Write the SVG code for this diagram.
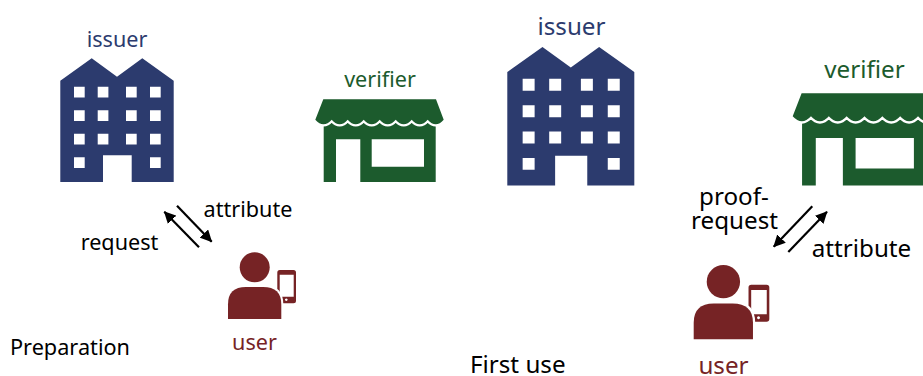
<svg xmlns="http://www.w3.org/2000/svg" width="923" height="376" viewBox="0 0 923 376">
<style>
text{font-family:"Noto Sans","Open Sans","Liberation Sans",sans-serif}
.s{font-size:21.6px}.l{font-size:24.2px}
.b{fill:#2c3b6e}.g{fill:#1c5b2d}.r{fill:#762325}.k{fill:#000}
.c{stroke:#000;stroke-width:2.2;fill:none;marker-end:url(#a)}
</style>
<defs>
<marker id="a" viewBox="0 0 10 10" refX="9.5" refY="5" markerWidth="5.4" markerHeight="5.4" orient="auto"><path d="M0,0L10,5L0,10Z" fill="#000"/></marker>
<g id="bld"><path fill="#2c3b6e" fill-rule="evenodd" d="M0,22.4L31.4,0L56.7,18.4L82,0L113.4,22.4V123.7H71.4V97H42.7V123.7H0Z
M13.7,28.4h10.7v10.7h-10.7z M37.4,28.4h10.7v10.7h-10.7z M65.7,28.4h10.7v10.7h-10.7z M89.7,28.4h10.7v10.7h-10.7z
M13.7,52h10.7v10.7h-10.7z M37.4,52h10.7v10.7h-10.7z M65.7,52h10.7v10.7h-10.7z M89.7,52h10.7v10.7h-10.7z
M13.7,75.4h10.7v10.7h-10.7z M37.4,75.4h10.7v10.7h-10.7z M65.7,75.4h10.7v10.7h-10.7z M89.7,75.4h10.7v10.7h-10.7z
M13.7,99h10.7v10.7h-10.7z M89.7,99h10.7v10.7h-10.7z"/></g>
<g id="shop"><path fill="#1c5b2d" fill-rule="evenodd" d="M8.4,22H120.4V82.7H45V40H20.7V82.7H8.4Z M56.4,40V67.4H108.7V40Z"/>
<path fill="#1c5b2d" stroke="#fff" stroke-width="4.4" paint-order="stroke" stroke-linejoin="round" d="M8,0H120.7L128.4,20.5q-8,9-16,0q-8,9-16,0q-8,9-16,0q-8,9-16,0q-8,9-16,0q-8,9-16,0q-8,9-16,0q-8.2,9-16.4,0Z"/></g>
<g id="person"><circle cx="26.7" cy="15" r="15" fill="#762325"/>
<path fill="#762325" fill-rule="evenodd" d="M51.8,17.7H65.5a2.5,2.5 0 0 1 2.5,2.5V48.5a2.5,2.5 0 0 1 -2.5,2.5H51.8a2.5,2.5 0 0 1 -2.5,-2.5V20.2a2.5,2.5 0 0 1 2.5,-2.5Z M51.7,22.4V44.4H65.7V22.4Z M58.3,46.1a1.3,1.3 0 1 0 .01,0Z"/>
<path fill="#762325" stroke="#fff" stroke-width="4" paint-order="stroke" d="M0,66.7V52Q0,34.7 18,34.7H35Q53.3,34.7 53.3,52V66.7Z"/></g>
</defs>
<g id="connectors">
<path class="c" d="M199,247.3L164.3,211.7"/>
<path class="c" d="M177,205.7L211.7,241.7"/>
<path class="c" d="M812.3,206.3L773.7,246.7"/>
<path class="c" d="M788.3,252L827,211.7"/>
</g>
<g id="issuer-1"><use href="#bld" transform="translate(60.3 58.3)"/><text class="s b" x="117" y="47" text-anchor="middle">issuer</text></g>
<g id="verifier-1"><use href="#shop" transform="translate(315.3 99.3)"/><text class="s g" x="380" y="87" text-anchor="middle">verifier</text></g>
<g id="user-1"><use href="#person" transform="translate(228 252.3)"/><text class="s r" x="254.5" y="350" text-anchor="middle">user</text></g>
<g id="issuer-2"><use href="#bld" transform="translate(507.3 47) scale(1.12)"/><text class="l b" x="571.5" y="35" text-anchor="middle">issuer</text></g>
<g id="verifier-2"><use href="#shop" transform="translate(792.7 93.3) scale(1.115)"/><text class="l g" x="864.5" y="78" text-anchor="middle">verifier</text></g>
<g id="user-2"><use href="#person" transform="translate(693.7 265) scale(1.112)"/><text class="l r" x="723.5" y="374" text-anchor="middle">user</text></g>
<g id="labels">
<text class="s k" x="248" y="217" text-anchor="middle">attribute</text>
<text class="s k" x="119.5" y="250" text-anchor="middle">request</text>
<text class="s k" x="10" y="355" textLength="120" lengthAdjust="spacingAndGlyphs">Preparation</text>
<text class="l k" x="470" y="373">First use</text>
<text class="l k" text-anchor="middle"><tspan x="734" y="205">proof-</tspan><tspan x="734.5" y="229">request</tspan></text>
<text class="l k" x="861.5" y="257" text-anchor="middle">attribute</text>
</g>
</svg>
